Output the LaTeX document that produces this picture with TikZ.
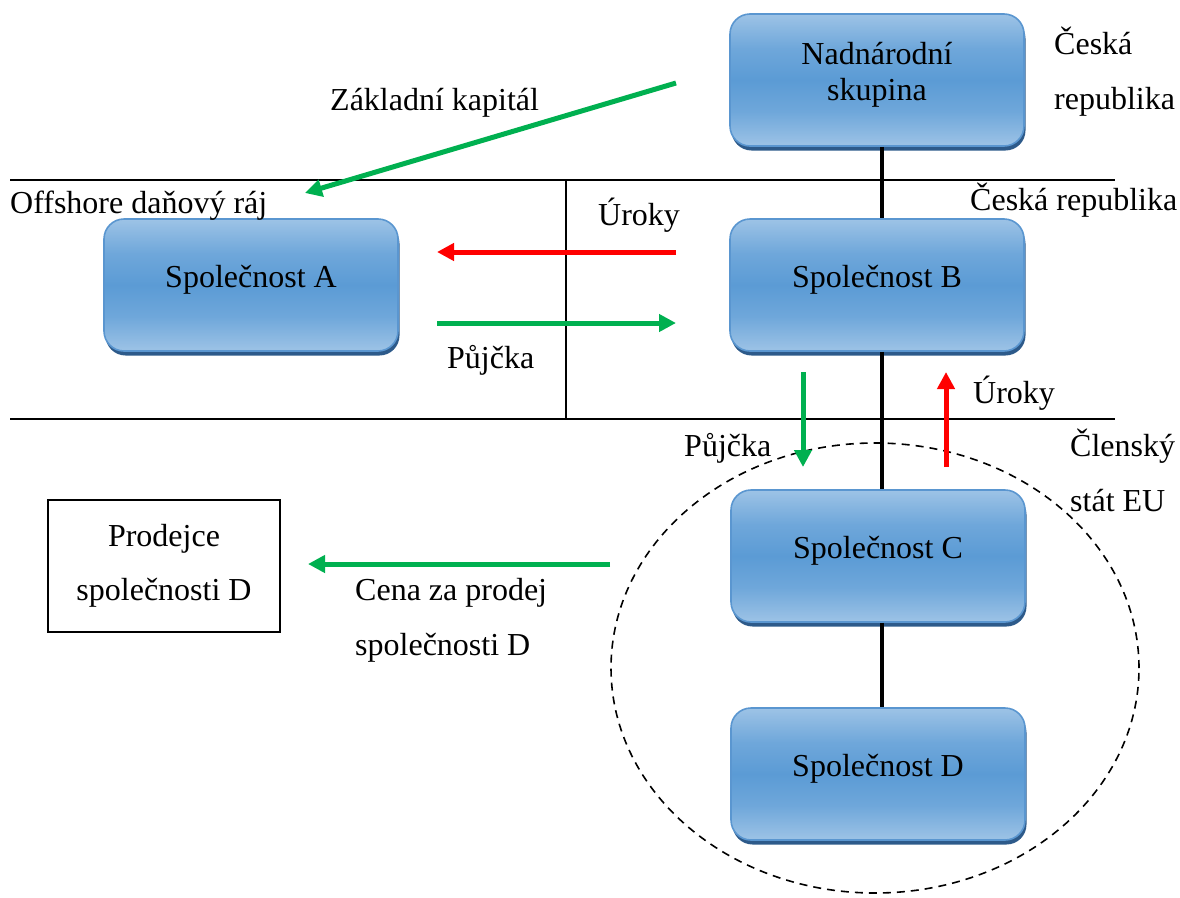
\documentclass[tikz,border=0pt]{standalone}
\usepackage{fontspec}
\setmainfont{Liberation Serif}
\usetikzlibrary{arrows.meta,shadows,shapes.geometric}

\definecolor{boxlight}{HTML}{9DC3E6}
\definecolor{boxmid}{HTML}{5B9BD5}
\colorlet{boxhalf}{boxmid!70!boxlight}
\definecolor{boxedge}{HTML}{5A96D0}
\definecolor{boxshadow}{HTML}{2D5A8A}
\definecolor{flowgreen}{HTML}{00B050}
\definecolor{flowred}{HTML}{FF0000}

% light at the top and bottom, darker band through the middle
\pgfdeclareverticalshading{companyshade}{100bp}{%
  color(0bp)=(boxlight); color(25bp)=(boxlight); color(38bp)=(boxhalf);
  color(50bp)=(boxmid); color(62bp)=(boxhalf); color(75bp)=(boxlight);
  color(100bp)=(boxlight)}

\tikzset{
  company/.style={rounded corners=20pt, draw=boxedge, line width=1.6pt,
    shading=companyshade, minimum width=294pt, minimum height=132pt,
    align=center, inner sep=0pt, text depth=18pt,
    general shadow={fill=boxshadow, shadow xshift=1.5pt, shadow yshift=-4.5pt}},
  plainbox/.style={draw=black, line width=1.8pt, fill=white,
    minimum width=232pt, minimum height=132pt, align=center, inner sep=0pt},
  lbl/.style={inner sep=0pt, anchor=base west, align=left},
  border/.style={line width=2.2pt, black},
  link/.style={line width=3.2pt, black},
  greenflow/.style={line width=5pt, flowgreen, -{Triangle[length=17pt,width=17pt]}},
  redflow/.style={line width=5pt, flowred, -{Triangle[length=17pt,width=17pt]}},
}

\begin{document}
\begin{tikzpicture}[x=1pt, y=-1pt, font=\fontsize{32pt}{55pt}\selectfont]
\useasboundingbox (0,0) rectangle (1180,897);

% jurisdiction borders
\coordinate (bTopL) at (10,180);  \coordinate (bTopR) at (1115,180);
\coordinate (bBotL) at (10,419);  \coordinate (bBotR) at (1115,419);
\coordinate (divT) at (566,180);  \coordinate (divB) at (566,419);
\draw[border] (bTopL) -- (bTopR);
\draw[border] (bBotL) -- (bBotR);
\draw[border] (divT) -- (divB);

% EU member state group
\node[ellipse, draw, dash pattern=on 8pt off 6pt, line width=1.6pt,
      minimum width=528pt, minimum height=450pt, inner sep=0pt] (eu) at (875,668) {};

% companies
\coordinate (spine) at (882,0);
\node[company, font=\fontsize{32pt}{36pt}\selectfont] (nad) at (877,80) {Nadnárodní\\skupina};
\node[company] (compA) at (251,285) {Společnost A};
\node[company] (compB) at (877,285) {Společnost B};
\node[company] (compC) at (878,556) {Společnost C};
\node[company] (compD) at (878,774) {Společnost D};
\node[plainbox, font=\fontsize{32pt}{54pt}\selectfont] (seller) at (164,566) {Prodejce\\společnosti D};

% ownership chain
\draw[link] (nad.south -| spine) -- (compB.north -| spine);
\draw[link] (compB.south -| spine) -- (compC.north -| spine);
\draw[link] (compC.south -| spine) -- (compD.north -| spine);

% flows of money
\coordinate (capS) at (676,83);  \coordinate (capE) at (305,193);
\coordinate (intS) at (676,252); \coordinate (intE) at (437,252);
\coordinate (loanS) at (437,323); \coordinate (loanE) at (676,323);
\coordinate (loan2S) at (803,372); \coordinate (loan2E) at (803,467);
\coordinate (int2S) at (946,467); \coordinate (int2E) at (946,372);
\coordinate (priceS) at (610,564); \coordinate (priceE) at (308,564);
\draw[greenflow] (capS) -- (capE);
\draw[redflow] (intS) -- (intE);
\draw[greenflow] (loanS) -- (loanE);
\draw[greenflow] (loan2S) -- (loan2E);
\draw[redflow] (int2S) -- (int2E);
\draw[greenflow] (priceS) -- (priceE);

% labels (multi-line labels are placed by the baseline of their last line)
\node[lbl] (lcap) at (330,110) {Základní kapitál};
\node[lbl] (loff) at (10,213) {Offshore daňový ráj};
\node[lbl] (lint1) at (598,225) {Úroky};
\node[lbl] (lloan1) at (447,368) {Půjčka};
\node[lbl] (lloan2) at (684,456) {Půjčka};
\node[lbl] (lint2) at (973,403) {Úroky};
\node[lbl] (lcz1) at (1054,109) {Česká\\republika};
\node[lbl] (lcz2) at (970,210) {Česká republika};
\node[lbl] (leu) at (1070,511) {Členský\\stát EU};
\node[lbl] (lprice) at (355,655) {Cena za prodej\\společnosti D};
\end{tikzpicture}
\end{document}
